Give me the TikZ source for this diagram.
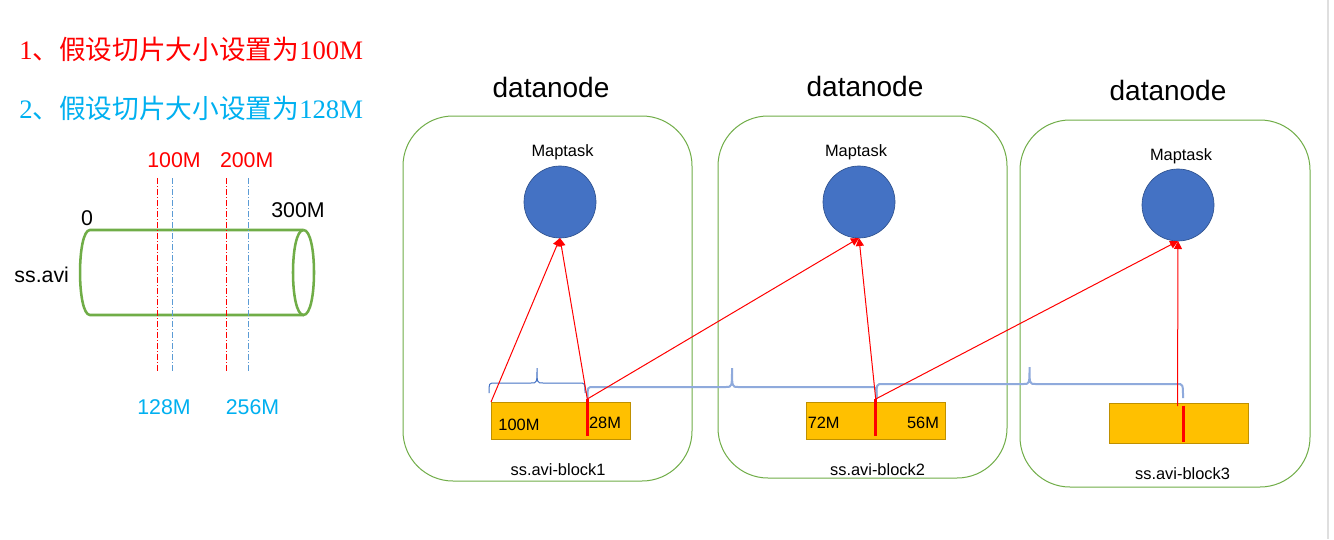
\documentclass[tikz,border=0pt]{standalone}
\usepackage{fontspec}
\setmainfont{Liberation Sans}
\newfontfamily\cjk{Noto Sans CJK SC}
\newfontfamily\serifnum{Liberation Serif}
\usetikzlibrary{arrows.meta}
\definecolor{myred}{HTML}{FF0000}
\definecolor{mycyan}{HTML}{00B0F0}
\definecolor{mygreen}{HTML}{70AD47}
\definecolor{circfill}{HTML}{4472C4}
\definecolor{circdraw}{HTML}{2F528F}
\definecolor{blkfill}{HTML}{FFC000}
\definecolor{blkdraw}{HTML}{BF9000}
\definecolor{braceone}{HTML}{4472C4}
\definecolor{bracetwo}{HTML}{8FAADC}
\definecolor{dashblue}{HTML}{5B9BD5}
\begin{document}
\begin{tikzpicture}[x=0.75pt,y=-0.75pt,
  titletxt/.style={anchor=west,inner sep=0pt,font=\fontsize{20}{20}\selectfont},
  cyl/.style={draw=mygreen,line width=1.9pt},
  cutline/.style={line width=0.75pt,dash pattern=on 4.5pt off 1.5pt on 0.75pt off 1.5pt},
  lbltxt/.style={inner sep=0pt,font=\fontsize{16}{16}\selectfont},
  dntitle/.style={inner sep=0pt,font=\fontsize{21}{21}\selectfont},
  smalltxt/.style={inner sep=0pt,font=\fontsize{12.3}{12.3}\selectfont},
  dnbox/.style={draw=mygreen,line width=0.75pt,rounded corners=37.5pt,inner sep=0pt,outer sep=0pt,minimum width=216.75pt},
  taskcirc/.style={circle,fill=circfill,draw=circdraw,line width=0.5pt,minimum size=54pt,inner sep=0pt,outer sep=0pt},
  blkbox/.style={rectangle,fill=blkfill,draw=blkdraw,line width=0.75pt,minimum width=104.25pt,inner sep=0pt,outer sep=0pt},
  splitmark/.style={draw=myred,line width=2.6pt},
  arr/.style={draw=myred,line width=0.75pt,-{Triangle[length=6pt,width=6pt]}},
  brA/.style={draw=braceone,line width=0.75pt},
  brB/.style={draw=bracetwo,line width=1.5pt}
]
\useasboundingbox[fill=white] (0,0) rectangle (1334,539);
\draw[gray!25,line width=1pt] (1328,0) -- (1328,539);

% titles
\node[titletxt,text=myred] (t1) at (19,49) {{\serifnum 1}{\cjk 、假设切片大小设置为}{\serifnum 100M}};
\node[titletxt,text=mycyan] (t2) at (19,108) {{\serifnum 2}{\cjk 、假设切片大小设置为}{\serifnum 128M}};

% cylinder
\draw[cyl] (303.5,230) -- (90,230) .. controls (76.7,230) and (76.7,315) .. (90,315) -- (303.5,315);
\draw[cyl] (303.5,230) .. controls (317.5,230) and (317.5,315) .. (303.5,315)
  .. controls (289.5,315) and (289.5,230) .. (303.5,230);

% cut lines
\draw[cutline,draw=myred] (157.7,178) -- (157.7,373);
\draw[cutline,draw=dashblue] (172.7,178) -- (172.7,373);
\draw[cutline,draw=myred] (226.7,178) -- (226.7,373);
\draw[cutline,draw=dashblue] (248.3,178) -- (248.3,373);

\node[lbltxt,text=myred] (l100) at (174,160) {100M};
\node[lbltxt,text=myred] (l200) at (246.7,160) {200M};
\node[lbltxt] (l0) at (87,218) {0};
\node[lbltxt] (l300) at (298,210) {300M};
\node[lbltxt] (lss) at (41.7,275) {ss.avi};
\node[lbltxt,text=mycyan] (l128) at (164,407) {128M};
\node[lbltxt,text=mycyan] (l256) at (252.5,407) {256M};

% datanodes
\node[dntitle] (d1) at (551,87) {datanode};
\node[dntitle] (d2) at (865,86) {datanode};
\node[dntitle] (d3) at (1168,90) {datanode};

\node[dnbox,minimum height=273.75pt] (n1) at (547.5,298.5) {};
\node[dnbox,minimum height=271.5pt] (n2) at (862.5,297) {};
\node[dnbox,minimum height=275.25pt,minimum width=217.5pt] (n3) at (1165,303.5) {};

\node[smalltxt] (mt1) at (562.5,152) {Maptask};
\node[smalltxt] (mt2) at (856,152) {Maptask};
\node[smalltxt] (mt3) at (1181,156) {Maptask};

\node[taskcirc] (c1) at (560,202) {};
\node[taskcirc] (c2) at (859,202) {};
\node[taskcirc] (c3) at (1178,205) {};

% blocks
\node[blkbox,minimum height=27.75pt] (b1) at (560.5,420.5) {};
\node[blkbox,minimum height=27.75pt] (b2) at (875.5,420.5) {};
\node[blkbox,minimum height=30pt] (b3) at (1178.5,423) {};

\node[smalltxt] (x100) at (519,425) {100M};
\node[smalltxt] (x28) at (605,423) {28M};
\node[smalltxt] (x72) at (823.7,423) {72M};
\node[smalltxt] (x56) at (923,423) {56M};

\node[smalltxt] (s1) at (558,470) {ss.avi-block1};
\node[smalltxt] (s2) at (877.5,470) {ss.avi-block2};
\node[smalltxt] (s3) at (1182.5,474) {ss.avi-block3};

% braces
\draw[brA] (489,393) .. controls (489,383) .. (495,383) -- (531,383)
  .. controls (537,383) .. (537,368) .. controls (537,383) .. (543,383) -- (579,383)
  .. controls (585,383) .. (585,393);
\draw[brB] (587.5,398) .. controls (587.5,387) .. (593.5,387) -- (726,387)
  .. controls (732,387) .. (732,368) .. controls (732,387) .. (738,387) -- (870.5,387)
  .. controls (876.5,387) .. (876.5,398);
\draw[brB] (876.5,398) .. controls (876.5,384) .. (882.5,384) -- (1023.5,384)
  .. controls (1029.5,384) .. (1029.5,367) .. controls (1029.5,384) .. (1035.5,384) -- (1177,384)
  .. controls (1183,384) .. (1183,398);

% split marks
\coordinate (m1t) at (587.3,399);
\coordinate (m1b) at (587.3,436);
\coordinate (m2t) at (875.7,399);
\coordinate (m2b) at (875.7,436);
\coordinate (m3t) at (1183.3,405.7);
\coordinate (m3b) at (1183.3,441.7);
\coordinate (a6) at (1177.5,406);

% arrows
\draw[arr] (b1.north west) -- (c1.south);
\draw[arr] (m1t) -- (c1.south);
\draw[arr] (m1t) -- (c2.south);
\draw[arr] (m2t) -- (c2.south);
\draw[arr] (m2t) -- (c3.south);
\draw[arr] (a6) -- (c3.south);

\draw[splitmark] (m1t) -- (m1b);
\draw[splitmark] (m2t) -- (m2b);
\draw[splitmark] (m3t) -- (m3b);
\end{tikzpicture}
\end{document}
